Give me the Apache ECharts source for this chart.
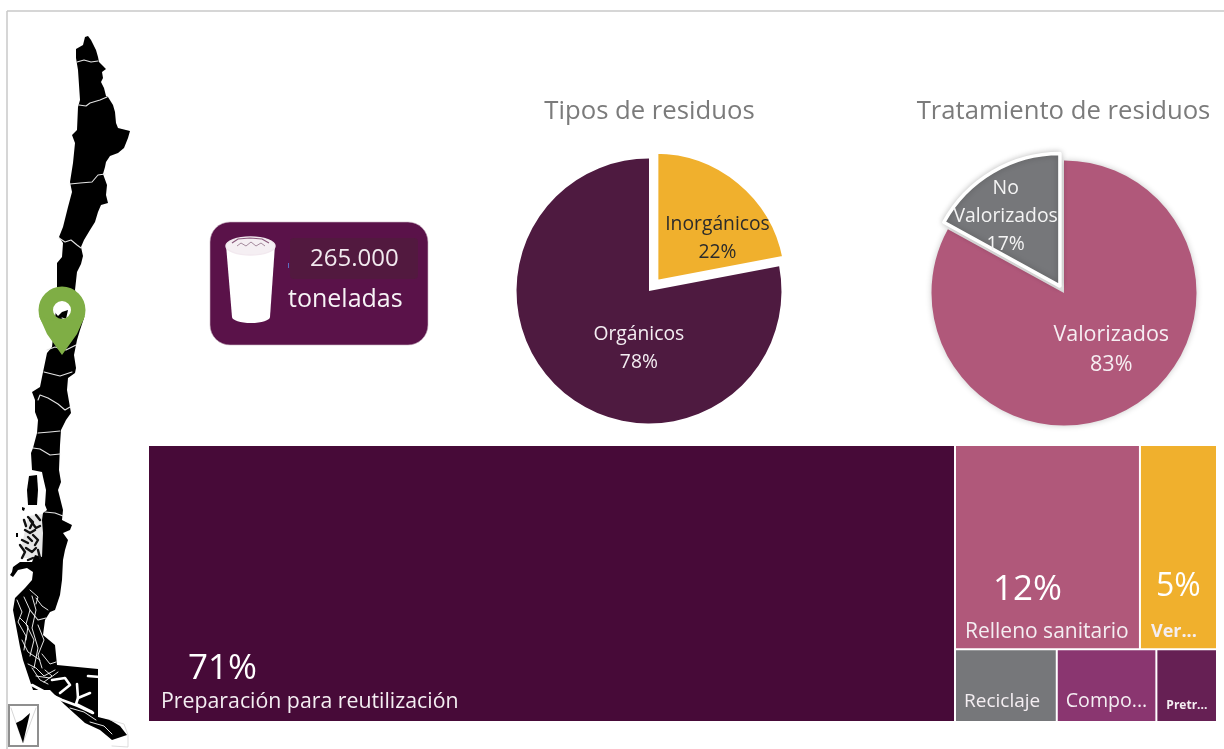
<!DOCTYPE html>
<html><head><meta charset="utf-8">
<style>html,body{margin:0;padding:0;background:#fff}#c{width:1224px;height:749px}</style>
<script src="https://cdn.jsdelivr.net/npm/echarts@6/dist/echarts.min.js"></script>
</head><body><div id="c"></div>
<script>
const FONT = '"Open Sans","Noto Sans",sans-serif';
// ---- data
const wasteTypes = ['Inorgánicos', 'Orgánicos'];
const wasteTypeValues = [22, 78];
const treatments = ['Valorizados', 'No\nValorizados'];
const treatmentValues = [83, 17];
const destinations = ['Preparación para reutilización', 'Relleno sanitario', 'Ver...', 'Reciclaje', 'Compo...', 'Pretr...'];
const destinationValues = [71, 12, 5, 2.35, 2.3, 1.4];
const destinationShown = ['71%', '12%', '5%', '', '', ''];
const totalTons = '265.000';
const totalUnit = 'toneladas';

// ---- decorative map artwork (traced outline, screen px)
const mapOutline = [[88,36],[91,40],[93,44],[96,50],[98,57],[99,62],[103,66],[106,69],[102,72],[103,78],[101,82],[104,88],[106,96],[108,97],[113,105],[115,112],[116,123],[118,128],[130,131],[128,138],[124,148],[118,153],[110,156],[106,162],[105,167],[103,174],[107,185],[106,195],[108,203],[101,205],[98,212],[95,222],[90,230],[84,240],[81,247],[83,256],[81,264],[77,272],[75,290],[84,318],[80,330],[77,340],[74,355],[76,368],[75,373],[68,378],[67,390],[71,413],[66,420],[61,430],[60,445],[59,470],[61,482],[58,490],[63,510],[62,520],[72,525],[70,530],[63,533],[68,540],[65,550],[63,560],[62,580],[60,595],[55,610],[50,612],[45,620],[43,635],[55,645],[57,665],[98,669],[98,717],[110,720],[120,726],[127,735],[112,740],[100,730],[85,723],[65,705],[50,690],[33,690],[23,660],[20,647],[13,610],[15,598],[25,588],[32,580],[33,572],[27,568],[18,570],[13,577],[10,575],[12,572],[13,567],[20,562],[32,562],[35,555],[42,557],[43,533],[42,520],[43,513],[47,510],[45,505],[46,490],[43,477],[42,472],[32,470],[31,453],[33,448],[37,433],[38,420],[35,412],[35,400],[32,392],[40,387],[42,377],[47,353],[52,347],[57,300],[57,270],[57,263],[62,257],[63,243],[59,237],[63,227],[68,207],[72,192],[70,182],[73,163],[75,143],[72,135],[77,130],[78,107],[80,100],[78,70],[76,58],[76,49],[83,45],[85,37]];
const mapIslands = [[[29,476],[37,475],[38,490],[37,505],[28,505],[27,490]],[[22,507],[25,508],[24,511],[22,510]],[[16,533],[18,533],[18,537],[16,537]]];
const mapShade = [[28,516],[43,514],[43,558],[24,558],[22,545]];
const mapBorders = [[[77,62],[84,60],[91,62],[98,61]],[[79,105],[86,106],[90,103],[100,100],[107,97]],[[70,184],[80,183],[92,182],[98,175],[105,174]],[[59,238],[65,242],[71,240],[77,245],[81,248]],[[62,318],[68,320],[77,313]],[[47,350],[55,347],[66,350],[76,345]],[[44,372],[52,374],[60,376],[72,372]],[[38,400],[40,395],[48,398],[58,404],[65,410],[70,407]],[[38,433],[50,432],[60,431]],[[33,448],[40,449],[50,455],[60,454]],[[45,512],[55,513],[63,516]],[[30,610],[38,620],[46,618]]];
const mapFjords = [[[17,600],[22,612],[18,622],[26,636],[24,650]],[[24,597],[30,610],[26,624],[34,640],[30,656]],[[32,596],[36,610],[32,628],[38,648],[34,668]],[[38,625],[44,640],[38,655],[42,668]],[[28,664],[36,668],[44,676],[55,670]],[[36,676],[50,678],[58,672]],[[42,654],[50,664],[56,662]],[[58,706],[70,712],[82,722]],[[90,722],[104,726],[112,734]],[[70,708],[84,712],[96,720]],[[22,640],[28,652],[40,660]],[[20,618],[28,626],[26,640]],[[36,598],[42,606],[48,610]],[[30,590],[38,597],[36,604]],[[32,668],[40,680],[48,684]],[[45,670],[52,676],[44,682]]];
const mapStraits = [[[32,685],[45,692],[62,700],[78,706],[93,713]],[[52,680],[65,678],[70,685],[60,693]],[[77,684],[78,698],[90,693]],[[78,698],[76,704],[92,712]],[[88,676],[100,677]]];
const mapArchipelago = [[[28,517],[33,522],[30,528]],[[25,530],[30,533],[35,530]],[[33,535],[38,540],[35,545]],[[22,540],[28,543]],[[26,548],[32,552],[36,548]],[[30,520],[36,528],[40,526]],[[20,545],[25,552],[22,558]],[[36,515],[40,520]],[[38,550],[40,558]],[[33,558],[28,560]],[[28,537],[32,541]],[[24,520],[26,526]]];
const mapSouthLine = [[[110,720],[124,724],[128,735],[128,747],[112,746]]];
const insetArrow = [[30,713],[23,743],[16,723],[22,720]];
const insetCone = [[[11,708],[23,743],[36,708]]];
const pinTip = [[39,316],[47,334],[62,355],[77,334],[85,316],[70,321],[54,321]];
const pinHole = [[52,300],[72,300],[72,320],[66,319],[68,310],[62,312],[58,316],[53,310]];

function lines(list, width, color){
  return list.map(p => ({type:'polyline', silent:true, shape:{points:p}, style:{stroke:color, lineWidth:width, fill:null, lineJoin:'round', lineCap:'round'}}));
}
const graphic = [
  {type:'line', silent:true, shape:{x1:7,y1:11,x2:1224,y2:11}, style:{stroke:'#c9c9c9', lineWidth:1.5}},
  {type:'line', silent:true, shape:{x1:7,y1:11,x2:7,y2:749}, style:{stroke:'#c9c9c9', lineWidth:1.5}},
  {type:'polygon', silent:true, shape:{points:mapShade}, style:{fill:'#e6e6e6'}},
  {type:'polygon', silent:true, shape:{points:mapOutline}, style:{fill:'#000'}},
  ...mapIslands.map(p => ({type:'polygon', silent:true, shape:{points:p}, style:{fill:'#000'}})),
  ...lines(mapArchipelago, 2.4, '#111'),
  ...lines(mapBorders, 1.1, '#e4e4e4'),
  ...lines(mapFjords, 0.9, '#fff'),
  ...lines(mapStraits, 2.6, '#fff'),
  ...lines(mapSouthLine, 0.7, '#cfcfcf'),
  {type:'rect', silent:true, shape:{x:9,y:705,width:29,height:41}, style:{fill:'#fff', stroke:'#8f8f8f', lineWidth:2}},
  ...lines(insetCone, 0.6, '#bbb'),
  {type:'polygon', silent:true, shape:{points:insetArrow}, style:{fill:'#000'}},
  {type:'polygon', silent:true, shape:{points:pinHole}, style:{fill:'#fff'}},
  {type:'ring', silent:true, shape:{cx:62,cy:310,r:23.5,r0:9}, style:{fill:'#7fae45'}},
  {type:'polygon', silent:true, shape:{points:pinTip}, style:{fill:'#7fae45'}},
  {type:'rect', silent:true, shape:{x:210,y:222,width:218,height:123,r:20}, style:{fill:'#5a1249', stroke:'#c9b5c3', lineWidth:0.6}},
  {type:'rect', silent:true, shape:{x:290,y:238,width:128,height:41,r:4}, style:{fill:'#52193f'}},
  {type:'rect', silent:true, shape:{x:288,y:263,width:1,height:5}, style:{fill:'#5b6fc0'}},
  {type:'polygon', silent:true, shape:{points:[[226,245],[275,245],[270,317],[232,317]]}, style:{fill:'#fff'}},
  {type:'ellipse', silent:true, shape:{cx:251,cy:317,rx:19,ry:6}, style:{fill:'#fff'}},
  {type:'ellipse', silent:true, shape:{cx:250.5,cy:246,rx:24.5,ry:9}, style:{fill:'#f5eff3', stroke:'#f2e9ef', lineWidth:1.5}},
  {type:'polyline', silent:true, shape:{points:[[232,243],[238,239],[250,238],[262,239],[269,243]]}, style:{stroke:'#8a5a7c', lineWidth:1.2, fill:null}},
  {type:'polyline', silent:true, shape:{points:[[237,246],[241,243],[246,246],[251,242],[256,246],[261,243],[265,246]]}, style:{stroke:'#a58a9d', lineWidth:1, fill:null}},
  {type:'text', silent:true, x:310, y:259, style:{text:totalTons, fill:'#f1e9ee', font:'24px '+FONT, textVerticalAlign:'middle'}},
  {type:'text', silent:true, x:288, y:300, style:{text:totalUnit, fill:'#f7f3f6', font:'500 25px '+FONT, textVerticalAlign:'middle'}}
];

const pieLabelShift = [[[18,9],[34,4]], [[12,-3],[-19,-10]]];
const pieLabelSize = [[19.3,19.3],[21.5,19.4]];
function pie(names, values, center, colors, labelColors, offset, lift, shadow, border){
  return {
    type:'pie', silent:true, center, radius:[0,132.5], startAngle:90, clockwise:true,
    selectedMode:'single', selectedOffset:offset, avoidLabelOverlap:false,
    label:{show:true, position:'inside', fontFamily:FONT, formatter:'{b}\n{c}%', overflow:'none'},
    labelLine:{show:false},
    labelLayout:p => ({dx:pieLabelShift[lift][p.dataIndex][0], dy:pieLabelShift[lift][p.dataIndex][1]}),
    data:names.map((n,i) => {
      const out = i === (lift ? 1 : 0);
      const st = {color:colors[i], borderColor:out?'#fff':colors[i], borderWidth:out?border:0, shadowBlur:shadow, shadowColor:'rgba(0,0,0,0.22)'};
      const lb = {color:labelColors[i], fontSize:pieLabelSize[lift][i], lineHeight:lift&&!i?30:28};
      return {name:n, value:values[i], selected:out, itemStyle:st, select:{itemStyle:st, label:lb}, label:lb};
    })
  };
}

const destColors = ['#470a38','#b0587a','#f0b02d','#76777a','#8a3670','#662054'];
const destLabels = [
  {size:35, pct:40, off:[7,198], pad:27, name:{fontSize:21.3}},
  {size:35, pct:58, off:[4,110], pad:28, name:{fontSize:21}},
  {size:32, pct:64, off:[5,104], pad:5, name:{fontSize:18, fontWeight:'bold'}},
  {size:0, pct:0, off:[3,33], pad:0, name:{fontSize:19}},
  {size:0, pct:0, off:[3,33], pad:0, name:{fontSize:19.6}},
  {size:0, pct:0, off:[4,37], pad:0, name:{fontSize:12, fontWeight:'bold'}}
];
const treeData = destinations.map((n,i) => {
  const L = destLabels[i];
  return {
    name:n, value:destinationValues[i],
    itemStyle:{color:destColors[i]},
    label:{
      show:true, position:'insideBottomLeft', distance:0, offset:L.off, overflow:'none',
      formatter:() => (destinationShown[i] ? '{p|'+destinationShown[i]+'}\n' : '') + '{n|'+n+'}',
      rich:{
        p:{fontFamily:FONT, fontSize:L.size||12, lineHeight:L.pct||12, color:'#fff', padding:[0,0,0,L.pad]},
        n:Object.assign({fontFamily:FONT, color:'#f4eef2', lineHeight:26}, L.name)
      }
    }
  };
});

const option = {
  animation:false,
  backgroundColor:'#fff',
  title:[
    {text:'Tipos de residuos', left:644.5, top:94, textAlign:'center', textStyle:{fontFamily:FONT, fontSize:25.7, fontWeight:'normal', color:'#7b7b7b'}},
    {text:'Tratamiento de residuos', left:1058.5, top:94, textAlign:'center', textStyle:{fontFamily:FONT, fontSize:25.7, fontWeight:'normal', color:'#7b7b7b'}}
  ],
  graphic,
  series:[
    pie(wasteTypes, wasteTypeValues, [649,291], ['#f0b02d','#4e1a40'], ['#2b2b2b','#f4eef2'], 10, 0, 0, 6),
    pie(treatments, treatmentValues, [1064,293], ['#b0587a','#76777a'], ['#f6eef2','#f4f4f4'], 8, 1, 6, 3.5),
    {
      type:'treemap', left:149, top:446, width:1067, height:275, roam:false, nodeClick:false, silent:true,
      breadcrumb:{show:false},
      itemStyle:{gapWidth:2, borderWidth:0, borderColor:'#fff'},
      levels:[{itemStyle:{gapWidth:2, borderWidth:0, borderColor:'#fff'}}],
      data:treeData
    }
  ]
};
echarts.init(document.getElementById('c'), null, {renderer:'canvas'}).setOption(option);
</script></body></html>
